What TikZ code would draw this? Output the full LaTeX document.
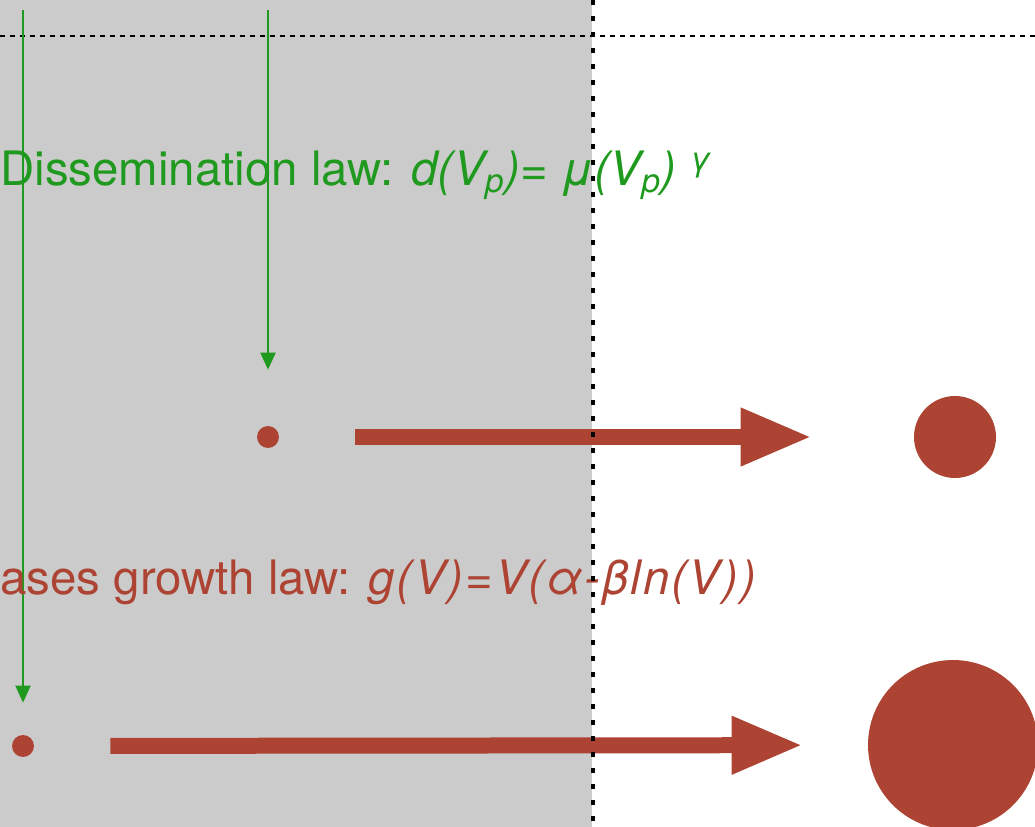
\documentclass[tikz,border=0pt]{standalone}
\usepackage{fontspec}
\setmainfont{TeX Gyre Heros}
\usetikzlibrary{arrows.meta, positioning}
\definecolor{tumour}{HTML}{AD4433}
\definecolor{spread}{HTML}{1F9A1F}
\definecolor{panel}{HTML}{CBCBCB}

\begin{document}
\begin{tikzpicture}[x=0.02cm, y=-0.02cm,
  lesion/.style={circle, fill=tumour, inner sep=0pt},
  growth/.style={draw=tumour, line width=0.32cm, -{Triangle[length=1.42cm, width=1.08cm]}},
  seeding/.style={draw=spread, line width=1.2pt, -{Triangle[length=0.34cm, width=0.3cm]}},
  lawtext/.style={anchor=base west, inner sep=0pt, font=\fontsize{27}{32}\selectfont}]
  \useasboundingbox (0,0) rectangle (1035,827);
  % primary side (grey) and time line
  \fill[panel] (0,0) rectangle (592,827);
  \draw[dash pattern=on 0.1cm off 0.1cm, line width=0.05cm] (0,36) -- (1035,36);
  % lesions, small before and large after
  \node[lesion, minimum size=0.44cm] (seedA) at (268,437) {};
  \node[lesion, minimum size=0.44cm] (seedB) at (23,746) {};
  \node[lesion, minimum size=1.64cm] (tumA) at (955,437) {};
  \node[lesion, minimum size=3.4cm] (tumB) at (953,745) {};
  % new metastases arriving
  \coordinate (topA) at (268,10);
  \coordinate (topB) at (23,10);
  \draw[seeding, shorten >=1.12cm] (topA) -- (seedA);
  \draw[seeding, shorten >=0.64cm] (topB) -- (seedB);
  % laws
  \node[lawtext, text=spread] (displaw) at (0,186)
    {Dissemination law: \textit{d(V\textsubscript{p})= μ(V\textsubscript{p})~\textsuperscript{γ}}};
  \node[lawtext, text=tumour] (growlaw) at (0,594)
    {ases growth law: \textit{\addfontfeature{LetterSpace=4}g(V)=V(α-βln(V))}};
  % growth
  \draw[growth, shorten <=1.52cm, shorten >=2.04cm] (seedA) -- (tumA);
  \draw[growth, shorten <=1.52cm, shorten >=1.3cm] (seedB) -- (tumB);
  % boundary
  \draw[dash pattern=on 0.1cm off 0.22cm, line width=0.08cm] (593,0) -- (593,827);
\end{tikzpicture}
\end{document}
